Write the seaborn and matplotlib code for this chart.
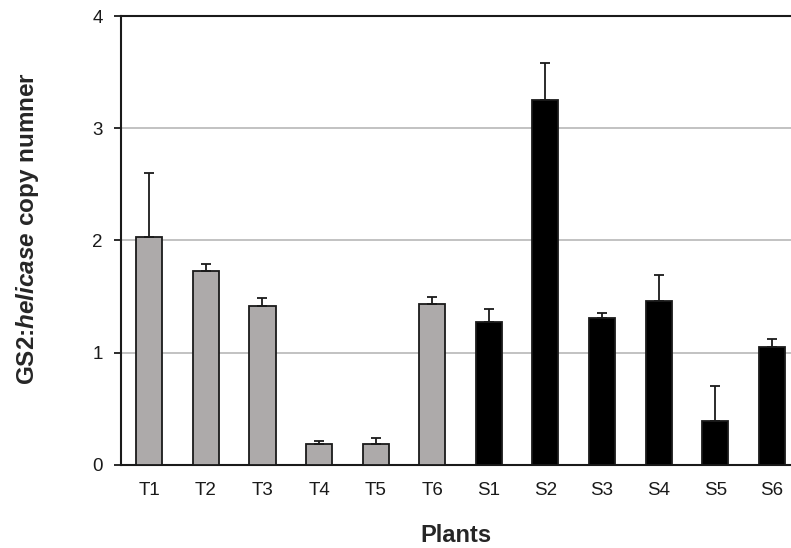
import matplotlib.pyplot as plt
import seaborn as sns
import pandas as pd


# Data
plants = ["T1", "T2", "T3", "T4", "T5", "T6", "S1", "S2", "S3", "S4", "S5", "S6"]
copy_number = [2.03, 1.73, 1.42, 0.19, 0.19, 1.43, 1.27, 3.25, 1.31, 1.46, 0.39, 1.05]
error_up = [0.57, 0.06, 0.07, 0.02, 0.05, 0.07, 0.12, 0.33, 0.04, 0.23, 0.31, 0.07]
group = ["T"] * 6 + ["S"] * 6

df = pd.DataFrame({"plant": plants, "value": copy_number, "err": error_up, "group": group})

sns.set_style("white")
plt.rcParams['font.family'] = ['Liberation Sans', 'DejaVu Sans']
plt.rcParams['mathtext.fontset'] = 'custom'
plt.rcParams['mathtext.it'] = 'Liberation Sans:italic:bold'
plt.rcParams['mathtext.rm'] = 'Liberation Sans:bold'

fig = plt.figure(figsize=(7.91, 5.48), dpi=100)
ax = fig.add_axes([0.153, 0.1515, 0.847, 0.8193])

sns.barplot(data=df, x="plant", y="value", hue="group", palette={"T": "#aeaaa9", "S": "#000000"},
            dodge=False, width=0.46, edgecolor="#1a1a1a", linewidth=1.3, legend=False, ax=ax, zorder=3)

# one-sided error bars (upper only)
ax.errorbar(range(len(plants)), df["value"], yerr=[[0] * len(plants), df["err"]],
            fmt="none", ecolor="#1a1a1a", elinewidth=1.3, capsize=3.5, capthick=1.3, zorder=4)

ax.set_ylim(0, 4)
ax.set_xlim(-0.5, 11.34)
ax.set_yticks([0, 1, 2, 3, 4])
ax.yaxis.grid(True, color="#b8b8b8", linewidth=1.2, zorder=0)
ax.xaxis.grid(False)
ax.set_axisbelow(True)

for side in ["left", "bottom", "top"]:
    ax.spines[side].set_visible(True)
    ax.spines[side].set_color("#1a1a1a")
    ax.spines[side].set_linewidth(1.5)
ax.spines["right"].set_visible(False)

ax.tick_params(axis="y", direction="out", length=5, width=1.3, color="#1a1a1a",
               labelsize=13.5, pad=8, left=True, labelcolor="#1a1a1a")
ax.tick_params(axis="x", length=0, labelsize=13.5, pad=12.5, labelcolor="#1a1a1a")

ax.set_xlabel("Plants", fontsize=17, fontweight="bold", labelpad=18)
ax.set_ylabel("GS2:$\\it{helicase}$ copy numner", fontsize=17.5, fontweight="bold")
ax.yaxis.set_label_coords(-0.12, 0.527)

fig.savefig("out.png", dpi=100)
